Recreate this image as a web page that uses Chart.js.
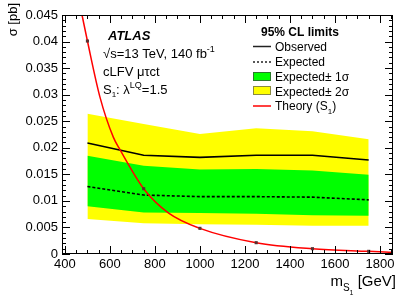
<!DOCTYPE html>
<html>
<head>
<meta charset="utf-8">
<script src="https://cdn.jsdelivr.net/npm/chart.js@4"></script>
<style>
  body { margin: 0; background: #fff; }
  canvas { display: block; }
</style>
</head>
<body>
<canvas id="chart" width="415" height="298"></canvas>
<script>
const massPoints = [500, 750, 1000, 1250, 1500, 1750];
const observed = [0.0209, 0.0186, 0.0182, 0.0186, 0.0186, 0.0177];
const expected = [0.0127, 0.0111, 0.0108, 0.0108, 0.0107, 0.0102];
const oneSigmaUp = [0.0185, 0.0166, 0.0159, 0.016, 0.0157, 0.0149];
const oneSigmaDown = [0.009, 0.0078, 0.0077, 0.0076, 0.0073, 0.0072];
const twoSigmaUp = [0.0264, 0.0245, 0.0226, 0.0237, 0.0231, 0.0216];
const twoSigmaDown = [0.0066, 0.0058, 0.0056, 0.0055, 0.0053, 0.0053];

const theoryMass = [476, 500, 556, 615, 644, 750, 861, 1000, 1250, 1500, 1750, 1858];
const theoryXsec = [0.045, 0.0401, 0.0295, 0.022, 0.0197, 0.0123, 0.0077, 0.00483, 0.00213, 0.001, 0.0005, 0.0003];
const theoryAtMass = [0.0401, 0.0123, 0.00483, 0.00213, 0.001, 0.0005];

const xTicks = [400, 600, 800, 1000, 1200, 1400, 1600, 1800];
const yTicks = [0, 0.005, 0.01, 0.015, 0.02, 0.025, 0.03, 0.035, 0.04, 0.045];

const FONT = "'Liberation Sans', Arial, Helvetica, sans-serif";

const pts = (xs, ys) => xs.map((x, i) => ({ x: x, y: ys[i] }));

// ROOT style: frame, inward ticks on all sides, texts and legend
const atlasDecor = {
  id: "atlasDecor",
  afterDraw(chart) {
    const { ctx, chartArea: a, scales } = chart;
    const xs = scales.x, ys = scales.y;
    ctx.save();
    ctx.strokeStyle = "#000";
    ctx.lineWidth = 1;
    ctx.strokeRect(a.left + 0.5, a.top + 0.5, a.right - a.left - 1, a.bottom - a.top - 1);

    ctx.beginPath();
    for (let m = 400; m <= 1858; m += 50) {
      const px = Math.round(xs.getPixelForValue(m)) + 0.5;
      const len = m % 200 === 0 ? 8 : 4;
      ctx.moveTo(px, a.bottom); ctx.lineTo(px, a.bottom - len);
      ctx.moveTo(px, a.top); ctx.lineTo(px, a.top + len);
    }
    for (let i = 0; i <= 45; i++) {
      const py = Math.round(ys.getPixelForValue(i / 1000)) + 0.5;
      const len = i % 5 === 0 ? 8 : 4;
      ctx.moveTo(a.left, py); ctx.lineTo(a.left + len, py);
      ctx.moveTo(a.right, py); ctx.lineTo(a.right - len, py);
    }
    ctx.stroke();

    ctx.fillStyle = "#000";
    ctx.textAlign = "left";
    ctx.textBaseline = "alphabetic";

    // ATLAS label block
    ctx.font = "bold italic 13px " + FONT;
    ctx.fillText("ATLAS", 108, 40);
    ctx.font = "13px " + FONT;
    let x = 103;
    ctx.fillText("\u221As=13 TeV, 140 fb", x, 58);
    x += ctx.measureText("\u221As=13 TeV, 140 fb").width;
    ctx.font = "9px " + FONT;
    ctx.fillText("-1", x, 52);
    ctx.font = "13px " + FONT;
    ctx.fillText("cLFV \u03bc\u03c4ct", 103, 76);
    x = 103;
    ctx.fillText("S", x, 94);
    x += ctx.measureText("S").width;
    ctx.font = "8px " + FONT;
    ctx.fillText("1", x, 97);
    x += ctx.measureText("1").width;
    ctx.font = "13px " + FONT;
    ctx.fillText(": \u03bb", x, 94);
    x += ctx.measureText(": \u03bb").width;
    ctx.font = "9px " + FONT;
    ctx.fillText("LQ", x, 88);
    x += ctx.measureText("LQ").width;
    ctx.font = "13px " + FONT;
    ctx.fillText("=1.5", x, 94);

    // legend
    ctx.font = "bold 12px " + FONT;
    ctx.fillText("95% CL limits", 261, 36);
    ctx.font = "12px " + FONT;
    const lx0 = 253, lx1 = 271, tx = 275;
    ctx.lineWidth = 1.5;
    ctx.strokeStyle = "#222";
    ctx.beginPath(); ctx.moveTo(lx0, 46.5); ctx.lineTo(lx1, 46.5); ctx.stroke();
    ctx.fillText("Observed", tx, 50.5);
    ctx.setLineDash([2, 2]);
    ctx.beginPath(); ctx.moveTo(lx0, 62); ctx.lineTo(lx1, 62); ctx.stroke();
    ctx.setLineDash([]);
    ctx.fillText("Expected", tx, 66);
    ctx.lineWidth = 1;
    ctx.fillStyle = "#00ff00";
    ctx.fillRect(lx0, 72, lx1 - lx0, 9);
    ctx.strokeStyle = "#2a7a2a";
    ctx.strokeRect(lx0 + 0.5, 72.5, lx1 - lx0 - 1, 8);
    ctx.fillStyle = "#ffff00";
    ctx.fillRect(lx0, 86, lx1 - lx0, 9);
    ctx.strokeStyle = "#8a8a40";
    ctx.strokeRect(lx0 + 0.5, 86.5, lx1 - lx0 - 1, 8);
    ctx.fillStyle = "#000";
    ctx.fillText("Expected\u00b1 1\u03c3", tx, 81);
    ctx.fillText("Expected\u00b1 2\u03c3", tx, 95.5);
    ctx.strokeStyle = "#ff0000";
    ctx.lineWidth = 1.5;
    ctx.beginPath(); ctx.moveTo(lx0, 106); ctx.lineTo(lx1, 106); ctx.stroke();
    x = tx;
    ctx.fillText("Theory (S", x, 110);
    x += ctx.measureText("Theory (S").width;
    ctx.font = "8px " + FONT;
    ctx.fillText("1", x, 114);
    x += ctx.measureText("1").width;
    ctx.font = "12px " + FONT;
    ctx.fillText(")", x, 110);

    // x title, right aligned
    ctx.font = "15px " + FONT;
    const wm = ctx.measureText("m").width;
    const wg = ctx.measureText(" [GeV]").width;
    ctx.font = "10px " + FONT;
    const ws = ctx.measureText("S").width;
    ctx.font = "7px " + FONT;
    const w1 = ctx.measureText("1").width;
    x = 396 - (wm + ws + w1 + wg);
    ctx.font = "15px " + FONT;
    ctx.fillText("m", x, 286);
    x += wm;
    ctx.font = "10px " + FONT;
    ctx.fillText("S", x, 291);
    x += ws;
    ctx.font = "7px " + FONT;
    ctx.fillText("1", x, 295);
    x += w1;
    ctx.font = "15px " + FONT;
    ctx.fillText(" [GeV]", x, 286);

    // y title, aligned to the top
    ctx.translate(17, 3);
    ctx.rotate(-Math.PI / 2);
    ctx.font = "13px " + FONT;
    ctx.textAlign = "right";
    ctx.fillText("\u03c3 [pb]", 0, 0);
    ctx.restore();
  },
};

new Chart(document.getElementById("chart"), {
  type: "line",
  data: {
    datasets: [
      {
        label: "Theory points",
        data: pts(massPoints, theoryAtMass),
        showLine: false,
        pointStyle: "rect",
        pointRadius: 2.2,
        pointBackgroundColor: "#5a3030",
        pointBorderWidth: 0,
        order: 0,
      },
      {
        label: "Theory (S1)",
        data: pts(theoryMass, theoryXsec),
        borderColor: "#ff0000",
        borderWidth: 1.5,
        pointRadius: 0,
        cubicInterpolationMode: "monotone",
        order: 1,
      },
      {
        label: "Observed",
        data: pts(massPoints, observed),
        borderColor: "#000",
        borderWidth: 1.6,
        pointRadius: 0,
        tension: 0,
        order: 2,
      },
      {
        label: "Expected",
        data: pts(massPoints, expected),
        borderColor: "#000",
        borderWidth: 1.6,
        borderDash: [3, 2],
        pointRadius: 0,
        tension: 0,
        order: 3,
      },
      {
        label: "Expected +1 sigma",
        data: pts(massPoints, oneSigmaUp),
        borderWidth: 0,
        pointRadius: 0,
        backgroundColor: "#00ff00",
        fill: 5,
        order: 4,
      },
      {
        label: "Expected -1 sigma",
        data: pts(massPoints, oneSigmaDown),
        borderWidth: 0,
        pointRadius: 0,
        fill: false,
        order: 5,
      },
      {
        label: "Expected +2 sigma",
        data: pts(massPoints, twoSigmaUp),
        borderWidth: 0,
        pointRadius: 0,
        backgroundColor: "#ffff00",
        fill: 7,
        order: 6,
      },
      {
        label: "Expected -2 sigma",
        data: pts(massPoints, twoSigmaDown),
        borderWidth: 0,
        pointRadius: 0,
        fill: false,
        order: 7,
      },
    ],
  },
  options: {
    responsive: false,
    animation: false,
    layout: { padding: { top: 15, right: 22, left: 0, bottom: 0 } },
    plugins: {
      legend: { display: false },
      tooltip: { enabled: false },
    },
    scales: {
      x: {
        type: "linear",
        min: 387,
        max: 1858,
        afterBuildTicks: (s) => { s.ticks = xTicks.map((v) => ({ value: v })); },
        afterFit: (s) => { s.height = 44; },
        grid: { display: false, drawTicks: false },
        border: { display: false },
        ticks: {
          color: "#000",
          font: { family: FONT, size: 13 },
          padding: 3,
          maxRotation: 0,
          autoSkip: false,
          callback: (v) => String(v),
        },
      },
      y: {
        min: 0,
        max: 0.045,
        afterBuildTicks: (s) => { s.ticks = yTicks.map((v) => ({ value: v })); },
        afterFit: (s) => { s.width = 62; },
        grid: { display: false, drawTicks: false },
        border: { display: false },
        ticks: {
          color: "#000",
          font: { family: FONT, size: 13 },
          padding: 4,
          autoSkip: false,
          callback: (v) => String(v),
        },
      },
    },
  },
  plugins: [atlasDecor],
});
</script>
</body>
</html>
